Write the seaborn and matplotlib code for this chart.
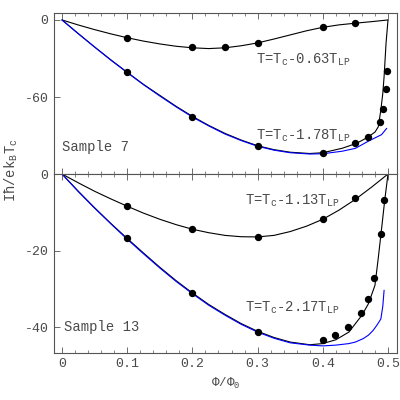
import numpy as np
import pandas as pd
import seaborn as sns
import matplotlib.pyplot as plt
from matplotlib.ticker import MultipleLocator

# Sample 7, T = Tc - 0.63 TLP
s7_hi_x = [0, 0.025, 0.05, 0.075, 0.1, 0.125, 0.15, 0.175, 0.2, 0.225, 0.25, 0.275,
           0.3, 0.325, 0.35, 0.375, 0.4, 0.425, 0.45, 0.475, 0.5]
s7_hi_y = [0, -3.9, -7.5, -10.8, -13.8, -16.4, -18.6, -20.4, -21.6, -22.2, -21.6, -20.0,
           -17.8, -14.8, -11.6, -8.4, -5.7, -3.8, -2.5, -1.3, 0]
s7_hi_px = [0.1, 0.2, 0.25, 0.3, 0.4, 0.45]
s7_hi_py = [-13.7, -21.2, -21.2, -17.6, -5.4, -2.6]

# Sample 7, T = Tc - 1.78 TLP
s7_lo_x = [0, 0.025, 0.05, 0.075, 0.1, 0.125, 0.15, 0.175, 0.2, 0.225, 0.25, 0.275,
           0.3, 0.325, 0.35, 0.38, 0.4, 0.43, 0.45, 0.46, 0.47, 0.48, 0.485, 0.489,
           0.492, 0.494, 0.497, 0.5]
s7_lo_y = [0, -10.6, -21, -31, -40.6, -50, -58.5, -67, -74.8, -81.8, -88, -93.2,
           -97.6, -100.6, -102.6, -103.6, -103, -99.5, -96, -93.5, -90.6, -87, -83, -70,
           -57, -44, -18, 0]
s7_lo_px = [0.1, 0.2, 0.3, 0.4, 0.45, 0.469, 0.488, 0.493, 0.4965, 0.498]
s7_lo_py = [-40.6, -75.1, -97.8, -103, -95.7, -90.6, -79, -69.1, -53.8, -39.6]
s7_blue_x = [0, 0.025, 0.05, 0.075, 0.1, 0.125, 0.15, 0.175, 0.2, 0.225, 0.25, 0.275,
             0.3, 0.325, 0.35, 0.38, 0.4, 0.43, 0.45, 0.47, 0.49, 0.498]
s7_blue_y = [0, -10.7, -21, -31.2, -40.8, -50.2, -59, -67.4, -75.3, -82.2, -88.5, -93.6,
             -98, -101, -103, -104, -103.8, -101.8, -99.6, -94, -89, -84.1]

# Sample 13, T = Tc - 1.13 TLP
s13_hi_x = [0, 0.025, 0.05, 0.075, 0.1, 0.125, 0.15, 0.175, 0.2, 0.225, 0.25, 0.275,
            0.3, 0.325, 0.35, 0.375, 0.4, 0.425, 0.45, 0.475, 0.5]
s13_hi_y = [0, -2.3, -4.5, -6.5, -8.4, -10.2, -11.8, -13.2, -14.4, -15.3, -16.0, -16.35,
            -16.4, -16.0, -15.0, -13.6, -11.8, -9.4, -6.6, -3.4, 0]
s13_hi_px = [0.1, 0.2, 0.3, 0.4, 0.45]
s13_hi_py = [-8.3, -14.4, -16.3, -11.7, -6.3]

# Sample 13, T = Tc - 2.17 TLP
s13_lo_x = [0, 0.025, 0.05, 0.075, 0.1, 0.125, 0.15, 0.175, 0.2, 0.225, 0.25, 0.275,
            0.3, 0.325, 0.35, 0.38, 0.4, 0.42, 0.44, 0.46, 0.47, 0.48, 0.485, 0.49,
            0.495, 0.5]
s13_lo_y = [0, -4.5, -8.8, -12.9, -16.8, -20.6, -24.3, -27.8, -31.0, -34.0, -36.6, -39.0,
            -41.0, -42.6, -43.8, -44.5, -44.2, -43.2, -41.2, -36.8, -33.8, -29, -22,
            -14.5, -6.8, 0]
s13_lo_px = [0.1, 0.2, 0.3, 0.4, 0.419, 0.439, 0.459, 0.469, 0.4785, 0.4888, 0.4939]
s13_lo_py = [-16.8, -31.1, -41.1, -43.3, -42.0, -39.9, -36.2, -32.5, -27.1, -15.6, -6.7]
s13_blue_x = [0, 0.025, 0.05, 0.075, 0.1, 0.125, 0.15, 0.175, 0.2, 0.225, 0.25, 0.275,
              0.3, 0.325, 0.35, 0.38, 0.4, 0.42, 0.44, 0.45, 0.462, 0.47, 0.477, 0.483,
              0.489, 0.492, 0.494]
s13_blue_y = [0, -4.6, -8.9, -13.0, -17.0, -20.8, -24.5, -28.0, -31.2, -34.2, -36.8, -39.2,
              -41.2, -42.8, -44.0, -44.6, -44.8, -44.6, -44.2, -43.8, -42.9, -42.0, -40.8,
              -39.4, -37.8, -34.5, -30.3]

labels = [r'T=T$_\mathrm{c}$-0.63T$_\mathrm{LP}$', r'T=T$_\mathrm{c}$-1.78T$_\mathrm{LP}$',
          r'T=T$_\mathrm{c}$-1.13T$_\mathrm{LP}$', r'T=T$_\mathrm{c}$-2.17T$_\mathrm{LP}$']

sns.set_style('ticks')
plt.rcParams['font.family'] = ['Liberation Mono', 'DejaVu Sans Mono']
plt.rcParams['mathtext.fontset'] = 'custom'
plt.rcParams['mathtext.rm'] = 'Liberation Mono'
plt.rcParams['mathtext.it'] = 'Liberation Mono'

fig = plt.figure(figsize=(4, 4), dpi=100)
ax1 = fig.add_axes([0.135, 0.565, 0.8575, 0.4025])
ax2 = fig.add_axes([0.135, 0.118, 0.8575, 0.447])

gray = '#555555'
tcol = '#4a4a4a'

def curve(ax, x, y, color):
    sns.lineplot(x=x, y=y, ax=ax, color=color, lw=0.8, sort=False, estimator=None)

def dots(ax, x, y):
    sns.scatterplot(x=x, y=y, ax=ax, color='black', s=28, edgecolor='black', linewidth=0, zorder=5)

curve(ax1, s7_hi_x, s7_hi_y, 'black')
curve(ax1, s7_lo_x, s7_lo_y, 'black')
curve(ax1, s7_blue_x, s7_blue_y, '#0000ff')
dots(ax1, s7_hi_px, s7_hi_py)
dots(ax1, s7_lo_px, s7_lo_py)

curve(ax2, s13_hi_x, s13_hi_y, 'black')
curve(ax2, s13_lo_x, s13_lo_y, 'black')
curve(ax2, s13_blue_x, s13_blue_y, '#0000ff')
dots(ax2, s13_hi_px, s13_hi_py)
dots(ax2, s13_lo_px, s13_lo_py)

ax1.set_xlim(-0.0123, 0.5138)
ax2.set_xlim(-0.0123, 0.5138)
ax1.set_ylim(-119.5, 5.4)
ax2.set_ylim(-46.6, 0)

ax1.set_yticks([0, -60])
ax1.set_yticklabels(['0', '-60'])
ax2.set_yticks([0, -20, -40])
ax2.set_yticklabels(['0', '-20', '-40'])
ax2.set_xticks([0, 0.1, 0.2, 0.3, 0.4, 0.5])
ax2.set_xticklabels(['0', '0.1', '0.2', '0.3', '0.4', '0.5'])
ax1.set_xticks([0, 0.1, 0.2, 0.3, 0.4, 0.5])
ax1.set_xticklabels([])

for ax in (ax1, ax2):
    ax.xaxis.set_minor_locator(MultipleLocator(0.02))
    ax.tick_params(axis='both', which='major', direction='in', length=4, width=0.6,
                   color=gray, labelcolor=tcol, labelsize=9.5, pad=4)
    ax.tick_params(axis='x', which='minor', direction='in', length=2, width=0.5, color=gray)
    ax.tick_params(axis='x', which='both', top=True)
    for sp in ax.spines.values():
        sp.set_color(gray)
        sp.set_linewidth(0.8)
    ax.set_xlabel('')
    ax.set_ylabel('')

ax1.text(0.2975, -31, labels[0], fontsize=10, color=tcol, va='center')
ax1.text(0.298, -89.8, labels[1], fontsize=10, color=tcol, va='center')
ax1.text(0.0, -98.4, 'Sample 7', fontsize=10, color=tcol, va='center')
ax2.text(0.28, -7.0, labels[2], fontsize=10, color=tcol, va='center')
ax2.text(0.28, -34.8, labels[3], fontsize=10, color=tcol, va='center')
ax2.text(0.003, -39.9, 'Sample 13', fontsize=10, color=tcol, va='center')

ax2.set_xlabel(r'$\Phi$/$\Phi_\mathrm{0}$', fontsize=9, color=tcol, labelpad=4)
fig.text(0.0275, 0.575, r'Iħ/ek$_\mathrm{B}$T$_\mathrm{c}$', rotation=90,
         fontsize=10, color=tcol, ha='center', va='center')

fig.savefig('out.png', dpi=100)
